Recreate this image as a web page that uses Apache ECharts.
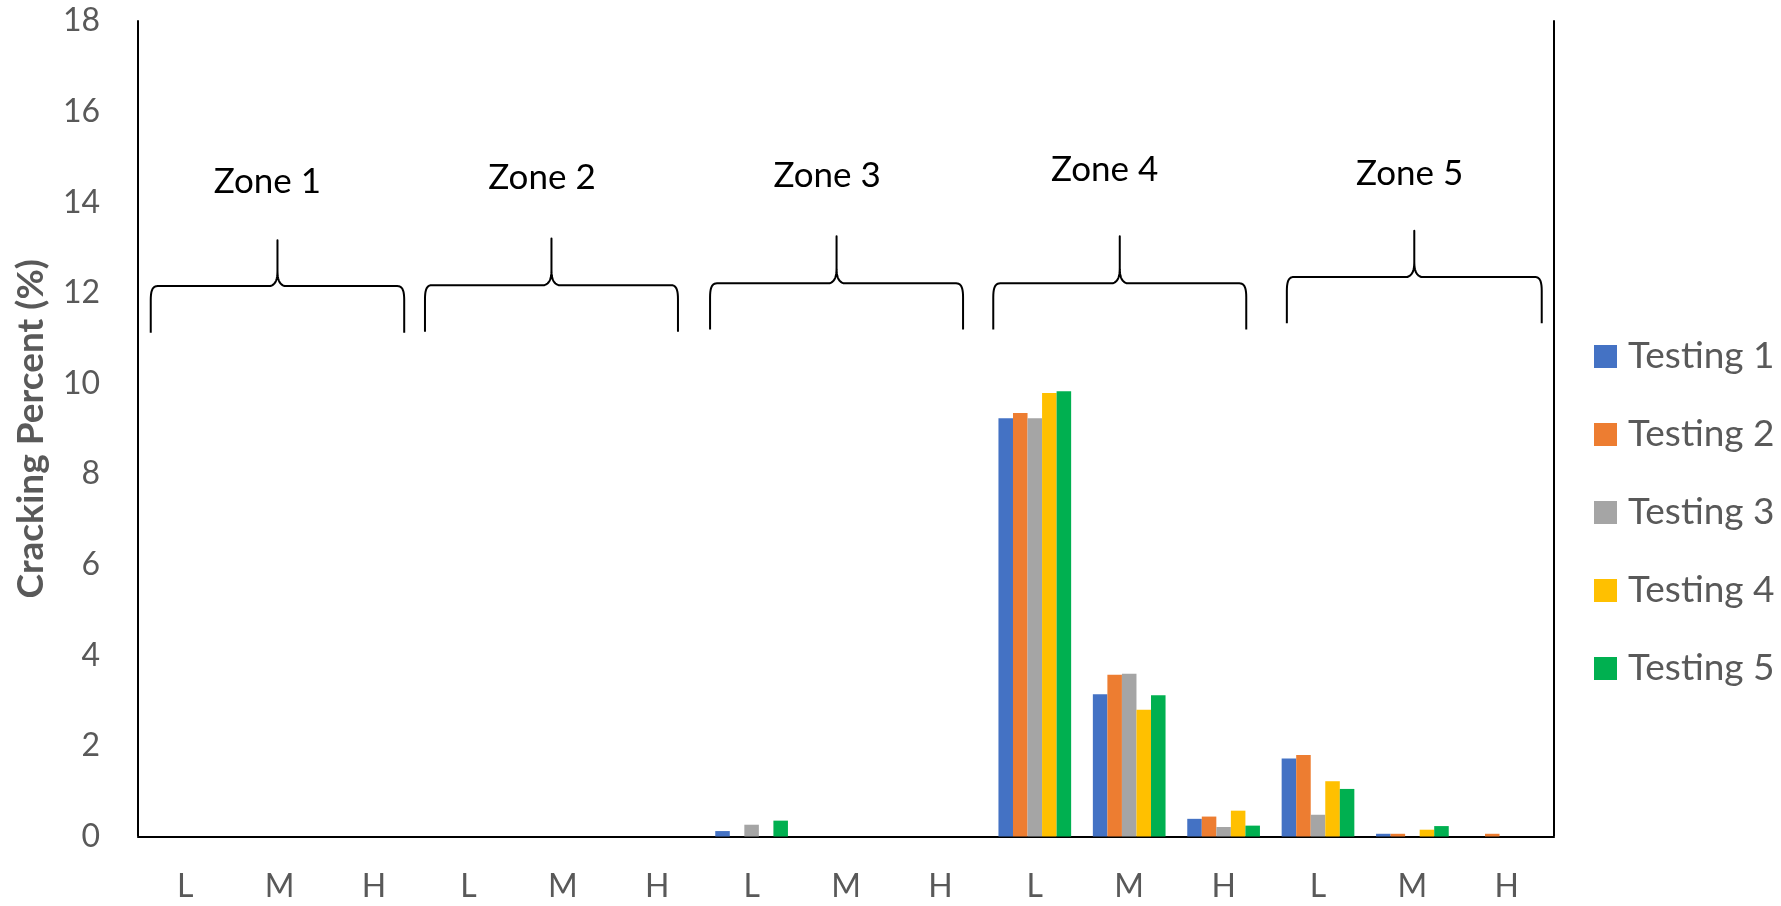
<!DOCTYPE html>
<html>
<head>
<meta charset="utf-8">
<title>Cracking Percent by Zone</title>
<script src="https://cdn.jsdelivr.net/npm/echarts@6/dist/echarts.min.js"></script>
<style>
  html, body { margin: 0; padding: 0; background: #ffffff; }
  #chart { width: 1781px; height: 906px; }
</style>
</head>
<body>
<div id="chart"></div>
<script>
// Severity levels inside each zone (L / M / H), five zones in a row
const categories = ['L', 'M', 'H', 'L', 'M', 'H', 'L', 'M', 'H', 'L', 'M', 'H', 'L', 'M', 'H'];
const seriesNames = ['Testing 1', 'Testing 2', 'Testing 3', 'Testing 4', 'Testing 5'];

// Cracking percent per category for each testing round
const testing1 = [0, 0, 0, 0, 0, 0, 0.12, 0, 0, 9.23, 3.14, 0.39, 1.72, 0.06, 0];
const testing2 = [0, 0, 0, 0, 0, 0, 0, 0, 0, 9.35, 3.57, 0.44, 1.80, 0.06, 0.06];
const testing3 = [0, 0, 0, 0, 0, 0, 0.26, 0, 0, 9.23, 3.59, 0.21, 0.48, 0, 0];
const testing4 = [0, 0, 0, 0, 0, 0, 0, 0, 0, 9.79, 2.80, 0.57, 1.22, 0.15, 0];
const testing5 = [0, 0, 0, 0, 0, 0, 0.35, 0, 0, 9.83, 3.12, 0.24, 1.05, 0.23, 0];

// Value axis range
const yMin = 0;
const yMax = 18;
const yStep = 2;

// Zone names shown above the bracket of each group
const zoneNames = ['Zone 1', 'Zone 2', 'Zone 3', 'Zone 4', 'Zone 5'];

const colors = ['#4472C4', '#ED7D31', '#A5A5A5', '#FFC000', '#00B050'];
const seriesValues = [testing1, testing2, testing3, testing4, testing5];

// Bracket placement: x in category units (0..15), y in axis units
const zoneLayout = [
  { left: 0.135, right: 2.82,  bar: 12.15, tip: 13.16, foot: 11.12, labelX: 1.37,  labelY: 14.45 },
  { left: 3.04,  right: 5.72,  bar: 12.17, tip: 13.20, foot: 11.14, labelX: 4.28,  labelY: 14.53 },
  { left: 6.06,  right: 8.74,  bar: 12.21, tip: 13.25, foot: 11.19, labelX: 7.30,  labelY: 14.58 },
  { left: 9.06,  right: 11.74, bar: 12.21, tip: 13.25, foot: 11.19, labelX: 10.24, labelY: 14.71 },
  { left: 12.17, right: 14.87, bar: 12.35, tip: 13.37, foot: 11.33, labelX: 13.47, labelY: 14.64 }
];

const FONT = 'Lato, "Open Sans", sans-serif';
const chart = echarts.init(document.getElementById('chart'), null, { renderer: 'canvas' });

const option = {
  animation: false,
  backgroundColor: '#ffffff',
  textStyle: { fontFamily: FONT },
  color: colors,
  grid: { left: 138, right: 227, top: 21, bottom: 69.5, containLabel: false },
  legend: {
    orient: 'vertical',
    left: 1589,
    top: 333,
    icon: 'rect',
    itemWidth: 23,
    itemHeight: 23,
    itemGap: 41,
    data: seriesNames,
    textStyle: { fontFamily: FONT, fontSize: 37, color: '#595959', lineHeight: 36, padding: [0, 0, 0, 6] }
  },
  xAxis: [
    {
      type: 'category',
      data: categories,
      position: 'bottom',
      axisLine: { show: true, lineStyle: { color: '#BFBFBF', width: 2 } },
      axisTick: { show: false },
      axisLabel: { interval: 0, margin: 34, fontFamily: FONT, fontSize: 32, color: '#595959' },
      splitLine: { show: false }
    },
    {
      type: 'category',
      data: categories,
      position: 'top',
      axisLine: { show: true, lineStyle: { color: '#000000', width: 2 } },
      axisTick: { show: false },
      axisLabel: { show: false },
      splitLine: { show: false }
    }
  ],
  yAxis: [
    {
      type: 'value',
      min: yMin,
      max: yMax,
      interval: yStep,
      name: 'Cracking Percent (%)',
      nameLocation: 'middle',
      nameGap: 88,
      nameTextStyle: { fontFamily: FONT, fontSize: 37, fontWeight: 'bold', color: '#595959' },
      axisLine: { show: true, lineStyle: { color: '#000000', width: 2 } },
      axisTick: { show: false },
      axisLabel: { margin: 38, fontFamily: FONT, fontSize: 32, color: '#595959' },
      splitLine: { show: false }
    },
    {
      type: 'value',
      min: yMin,
      max: yMax,
      interval: yStep,
      position: 'right',
      axisLine: { show: true, lineStyle: { color: '#000000', width: 2 } },
      axisTick: { show: false },
      axisLabel: { show: false },
      splitLine: { show: false }
    }
  ],
  series: seriesNames.map((name, i) => ({
    name: name,
    type: 'bar',
    xAxisIndex: 0,
    yAxisIndex: 0,
    data: seriesValues[i],
    barGap: '0%',
    barCategoryGap: '23%',
    itemStyle: { color: colors[i] }
  }))
};

chart.setOption(option);

// Curly brackets and zone captions, placed through the axis scales
function bracketPoints(x0, x1, yBar, yTip, yFoot) {
  const pts = [];
  const cx = (x0 + x1) / 2;
  const cubic = (p0, p1, p2, p3, n) => {
    for (let k = 1; k <= n; k++) {
      const t = k / n, u = 1 - t;
      pts.push([
        u * u * u * p0[0] + 3 * u * u * t * p1[0] + 3 * u * t * t * p2[0] + t * t * t * p3[0],
        u * u * u * p0[1] + 3 * u * u * t * p1[1] + 3 * u * t * t * p2[1] + t * t * t * p3[1]
      ]);
    }
  };
  // left foot and corner
  pts.push([x0, yFoot]);
  pts.push([x0, yBar + 14]);
  cubic([x0, yBar + 14], [x0, yBar + 4], [x0 + 2, yBar], [x0 + 7, yBar], 10);
  // bar to the central cusp
  pts.push([cx - 7, yBar]);
  cubic([cx - 7, yBar], [cx - 1, yBar - 2], [cx, yBar - 8], [cx, yBar - 16], 10);
  pts.push([cx, yTip]);
  pts.push([cx, yBar - 16]);
  cubic([cx, yBar - 16], [cx, yBar - 8], [cx + 1, yBar - 2], [cx + 7, yBar], 10);
  // bar to the right corner and foot
  pts.push([x1 - 7, yBar]);
  cubic([x1 - 7, yBar], [x1 - 2, yBar], [x1, yBar + 4], [x1, yBar + 14], 10);
  pts.push([x1, yFoot]);
  return pts;
}

function drawZones() {
  const c0 = chart.convertToPixel({ xAxisIndex: 0 }, 0);
  const c1 = chart.convertToPixel({ xAxisIndex: 0 }, 1);
  const catW = c1 - c0;
  const px = (u) => c0 + (u - 0.5) * catW;
  const py = (v) => chart.convertToPixel({ yAxisIndex: 0 }, v);

  const elements = [];
  zoneLayout.forEach((z, i) => {
    elements.push({
      type: 'polyline',
      silent: true,
      z: 10,
      shape: { points: bracketPoints(px(z.left), px(z.right), py(z.bar), py(z.tip), py(z.foot)) },
      style: { stroke: '#000000', lineWidth: 2, fill: null, lineJoin: 'round' }
    });
    elements.push({
      type: 'text',
      silent: true,
      z: 10,
      x: px(z.labelX),
      y: py(z.labelY),
      style: {
        text: zoneNames[i],
        fontFamily: FONT,
        fontSize: 35,
        fill: '#000000',
        align: 'center',
        verticalAlign: 'middle'
      }
    });
  });
  chart.setOption({ graphic: { elements: elements } });
}

drawZones();
</script>
</body>
</html>
